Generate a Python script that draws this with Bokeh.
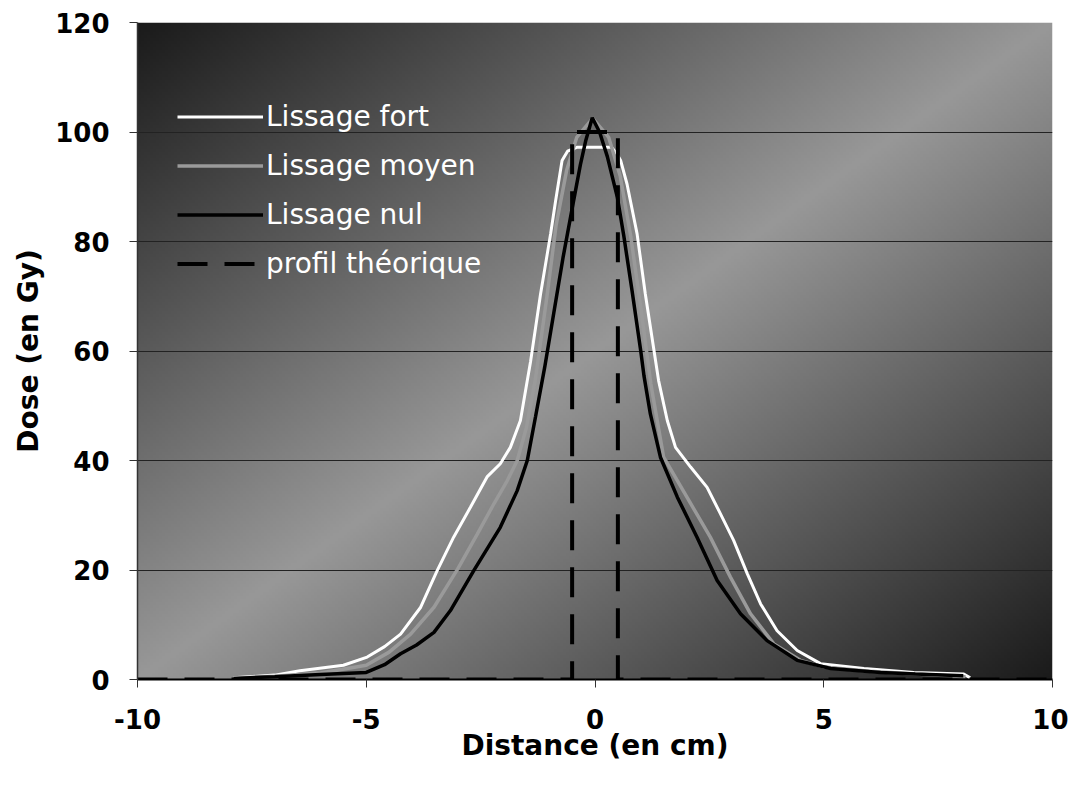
import numpy as np
from bokeh.plotting import figure
from bokeh.models import Legend, LegendItem, FixedTicker
from bokeh.embed import file_html
from bokeh.resources import INLINE

# ---- data ----
fort_x = [-7.9, -7.0, -6.45, -5.5, -4.98, -4.6, -4.25, -3.81, -3.45, -3.09, -2.72, -2.36, -2.07,
          -1.85, -1.63, -1.48, -1.41, -1.19, -0.97, -0.86, -0.72, -0.60, -0.40, 0.0, 0.36, 0.48,
          0.56, 0.70, 0.92, 1.10, 1.39, 1.58, 1.76, 2.09, 2.45, 2.74, 3.03, 3.33, 3.62, 3.98,
          4.42, 4.93, 5.88, 6.97, 8.06, 8.2]
fort_y = [0.3, 0.8, 1.6, 2.6, 4.1, 6.0, 8.3, 13.2, 19.9, 26.0, 31.5, 37.0, 39.4,
          42.4, 47.3, 54.6, 58.0, 70.4, 81.4, 87.5, 94.8, 96.5, 97.2, 97.2, 97.2, 96.0,
          94.8, 90.5, 81.4, 70.4, 54.6, 47.3, 42.4, 38.8, 35.1, 30.3, 25.4, 19.3, 13.8, 8.9,
          5.3, 2.9, 2.0, 1.3, 1.0, 0.3]

moyen_x = [-7.9, -7.0, -6.0, -5.0, -4.5, -4.03, -3.52, -3.0, -2.57, -2.21, -1.92, -1.70, -1.50,
           -1.30, -1.05, -0.85, -0.62, -0.40, -0.05, 0.30, 0.55, 0.78, 1.00, 1.22, 1.50, 2.01,
           2.52, 2.96, 3.40, 3.91, 4.49, 5.0, 6.0, 7.0, 8.1]
moyen_y = [0.2, 0.6, 1.2, 2.6, 5.0, 8.3, 13.2, 20.2, 26.6, 32.1, 36.3, 40.0, 46.0,
           55.0, 70.0, 83.0, 93.0, 99.0, 102.5, 99.0, 92.0, 81.0, 68.0, 54.0, 40.6, 33.3,
           26.0, 18.7, 12.0, 6.5, 3.5, 2.3, 1.5, 1.0, 0.5]

nul_x = [-7.9, -7.0, -6.0, -5.0, -4.6, -4.25, -3.9, -3.52, -3.16, -2.65, -2.07, -1.70, -1.48,
         -1.30, -1.10, -0.90, -0.70, -0.50, -0.32, -0.20, -0.06, 0.10, 0.27, 0.49, 0.63,
         0.81, 1.00, 1.07, 1.21, 1.43, 1.80, 2.23, 2.67, 3.18, 3.76, 4.42, 5.15, 6.24, 7.0, 8.05]
nul_y = [0.2, 0.5, 0.9, 1.3, 2.7, 4.7, 6.3, 8.6, 12.6, 19.9, 27.8, 34.5, 40.0,
         48.0, 57.0, 67.0, 77.0, 86.0, 94.0, 98.5, 102.6, 100.0, 95.5, 88.0, 81.0,
         71.0, 60.0, 55.5, 48.5, 40.6, 33.3, 26.0, 18.1, 12.0, 7.1, 3.5, 2.0, 1.3, 1.0, 0.7]

theo_x = [-10, -0.5, -0.5, 0.5, 0.5, 10]
theo_y = [0, 0, 100, 100, 0, 0]

x_ticks = [-10, -5, 0, 5, 10]
x_tick_labels = ["-10", "-5", "0", "5", "10"]
y_ticks = [0, 20, 40, 60, 80, 100, 120]

FRAME_W, FRAME_H = 915, 657

p = figure(frame_width=FRAME_W, frame_height=FRAME_H, x_range=(-10, 10), y_range=(0, 120),
           output_backend="svg", toolbar_location=None,
           min_border_left=137, min_border_top=22, min_border_right=16, min_border_bottom=100)
p.background_fill_color = "white"
p.border_fill_color = "white"
p.outline_line_color = None

# ---- diagonal gradient background (style) ----
ny, nx = 219, 305
u = (np.arange(nx) + 0.5) / nx
v_top = 1.0 - (np.arange(ny) + 0.5) / ny
t = (u[None, :] + v_top[:, None]) / 2.0
dark, light = 26.0, 152.0
val = (dark + (light - dark) * (1.0 - np.abs(2.0 * t - 1.0))).astype(np.uint8)
img = np.empty((ny, nx), dtype=np.uint32)
view = img.view(dtype=np.uint8).reshape((ny, nx, 4))
view[..., 0] = val
view[..., 1] = val
view[..., 2] = val
view[..., 3] = 255
bg = p.image_rgba(image=[img], x=-10, y=0, dw=20, dh=120)
bg.level = "image"

# ---- grid / axes ----
p.xgrid.grid_line_color = None
p.ygrid.grid_line_color = "#222222"
p.ygrid.grid_line_width = 1
p.xaxis.ticker = FixedTicker(ticks=x_ticks)
p.yaxis.ticker = FixedTicker(ticks=y_ticks)
p.xaxis.major_label_overrides = {tk: lb for tk, lb in zip(x_ticks, x_tick_labels)}

for ax in (p.xaxis[0], p.yaxis[0]):
    ax.axis_line_color = "#333333"
    ax.axis_line_width = 1.5
    ax.major_tick_line_color = "#333333"
    ax.major_tick_in = 0
    ax.major_tick_out = 8
    ax.minor_tick_line_color = None
    ax.major_label_text_font = "DejaVu Sans"
    ax.major_label_text_font_style = "bold"
    ax.major_label_text_font_size = "26px"
    ax.major_label_text_color = "black"
    ax.axis_label_text_font = "DejaVu Sans"
    ax.axis_label_text_font_style = "bold"
    ax.axis_label_text_color = "black"
    ax.axis_label_text_font_size = "28px"

p.xaxis.axis_line_color = "black"
p.xaxis.axis_line_width = 2
p.xaxis.axis_label = "Distance (en cm)"
p.xaxis.major_label_standoff = 21
p.xaxis.axis_label_standoff = -3
p.yaxis.axis_label = "Dose (en Gy)"
p.yaxis.major_label_standoff = 20
p.yaxis.axis_label_standoff = 7

# ---- series ----
r_fort = p.line(fort_x, fort_y, line_color="white", line_width=3)
r_moyen = p.line(moyen_x, moyen_y, line_color="#9a9a9a", line_width=3.5)
r_nul = p.line(nul_x, nul_y, line_color="black", line_width=3.5)
r_theo = p.line(theo_x, theo_y, line_color="black", line_width=4, line_dash="30 17")

# legend: top at 77 px below frame top, 4 rows of 35 px with 14 px spacing
LEG_H = 4 * 35 + 3 * 14
legend = Legend(items=[
    LegendItem(label="Lissage fort", renderers=[r_fort]),
    LegendItem(label="Lissage moyen", renderers=[r_moyen]),
    LegendItem(label="Lissage nul", renderers=[r_nul]),
    LegendItem(label="profil théorique", renderers=[r_theo]),
], location=(40, FRAME_H - 77 - LEG_H), orientation="vertical")
legend.background_fill_alpha = 0
legend.border_line_color = None
legend.margin = 0
legend.padding = 0
legend.spacing = 14
legend.glyph_width = 86
legend.glyph_height = 35
legend.label_height = 35
legend.label_standoff = 3
legend.label_text_color = "white"
legend.label_text_font = "DejaVu Sans"
legend.label_text_font_size = "28px"
p.add_layout(legend, "center")

open("out.html", "w").write(file_html(p, INLINE))
